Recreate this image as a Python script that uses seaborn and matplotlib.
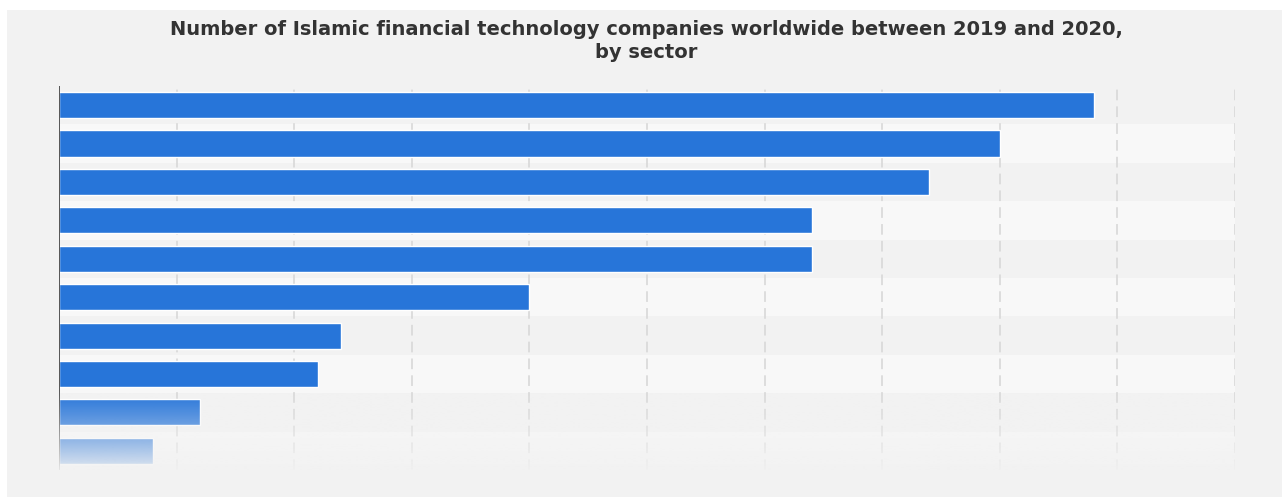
import numpy as np
import matplotlib.pyplot as plt
import seaborn as sns
import pandas as pd
from matplotlib.patches import Rectangle
from matplotlib.colors import to_rgb

# sector names are hidden in the source image
sectors = ['Peer-to-peer lending', 'Crowdfunding', 'Payments', 'Wealth management',
           'Digital banking', 'Alternative finance', 'Insurtech', 'Capital markets',
           'Deposits & lending', 'Raising funds']
companies = [44, 40, 37, 32, 32, 20, 12, 11, 6, 4]
x_ticks = [0, 5, 10, 15, 20, 25, 30, 35, 40, 45, 50]

df = pd.DataFrame({'Sector': sectors, 'Companies': companies})

bg = '#f2f2f2'
sns.set_style('white')
plt.rcParams['font.family'] = ['DejaVu Sans']

fig = plt.figure(figsize=(12.82, 4.99), dpi=100)
fig.patches.append(Rectangle((7 / 1282, 2 / 499), 1 - 7 / 1282, 487 / 499,
                             transform=fig.transFigure, facecolor=bg, edgecolor='none', zorder=-5))

ax = fig.add_axes([59 / 1282, 0.058, (1235 - 59) / 1282, 0.77])
ax.patch.set_alpha(0)

# alternating row bands
for i in range(len(sectors)):
    if i % 2 == 1:
        ax.axhspan(i - 0.5, i + 0.5, color='#f8f8f8', zorder=0, lw=0)

sns.barplot(data=df, x='Companies', y='Sector', color='#2775d9', saturation=1,
            width=0.68, ax=ax, zorder=3)

for xt in x_ticks[1:]:
    ax.axvline(xt, color='#d6d6d6', lw=1.1, ls=(0, (7, 4)), zorder=1)
ax.axvline(0, color='#555555', lw=1.4, zorder=4)

# fade out the lower rows (transparent at top, opaque at bottom)
rgb = to_rgb(bg)
grad = np.zeros((100, 2, 4))
grad[:, :, :3] = rgb
grad[:, :, 3] = np.linspace(0.0, 0.93, 100)[:, None] ** 1.2
ax.imshow(grad, extent=[-0.05, 1.0, 0.0, 0.21], transform=ax.transAxes,
          aspect='auto', zorder=5, interpolation='bilinear')

ax.set_xlim(0, 50)
ax.set_ylim(len(sectors) - 0.5, -0.5)
ax.set_xticks(x_ticks)
ax.set_xticklabels([])
ax.set_yticklabels([])
ax.tick_params(length=0)
ax.set_xlabel('')
ax.set_ylabel('')
ax.grid(False)
for s in ax.spines.values():
    s.set_visible(False)

fig.suptitle('Number of Islamic financial technology companies worldwide between 2019 and 2020,\nby sector',
             x=646 / 1282, y=0.96, fontsize=14, fontweight='bold', color='#333333', linespacing=1.3)

fig.savefig('out.png', dpi=100)
